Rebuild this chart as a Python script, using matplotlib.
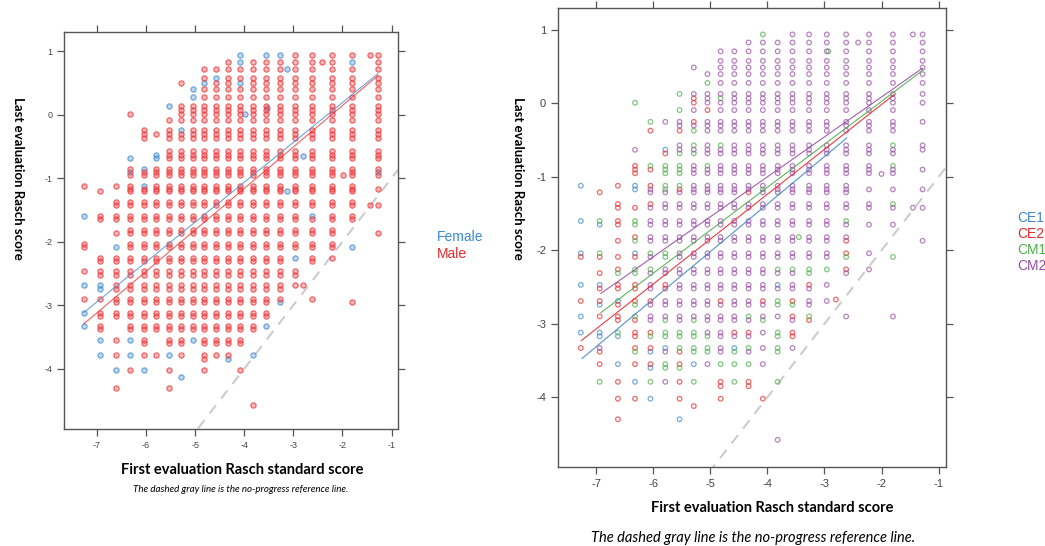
import numpy as np
import matplotlib
matplotlib.use("Agg")
import matplotlib.pyplot as plt
from matplotlib.colors import to_rgba

plt.rcParams['axes.unicode_minus'] = False

# grid of score values used by both axes (x columns, y levels from top to bottom)
X_LEVELS = [-7.27, -6.94, -6.62, -6.32, -6.05, -5.79, -5.54, -5.29, -5.05, -4.82, -4.58,
            -4.33, -4.08, -3.82, -3.56, -3.27, -2.96, -2.62, -2.22, -1.80, -1.28]
Y_LEVELS = [0.94, 0.83, 0.71, 0.58, 0.49, 0.40, 0.28, 0.13, 0.07, 0.01, -0.09, -0.25,
            -0.30, -0.37, -0.57, -0.63, -0.68, -0.85, -0.90, -0.95, -1.12, -1.17, -1.21,
            -1.37, -1.42, -1.60, -1.65, -1.82, -1.87, -2.04, -2.09, -2.26, -2.31, -2.47,
            -2.52, -2.69, -2.74, -2.90, -2.95, -3.12, -3.17, -3.33, -3.38, -3.55, -3.60,
            -3.79, -4.02, -4.30, -4.58]

# occupied y levels per x column ("a-b" = run of levels)
FEMALE_COLS = ["25 35 39 41", "35-36 43 45", "30 46", "16 18 43 45", "17 20 46", "15-16",
               "7 45", "11", "5-6 43", "4", "3", "", "0-1 4", "45", "0 41", "0 38", "31",
               "25", "", "1 30", "18"]
MALE_COLS = ["20 29-30 33 37", "22 25-26 31-34 37 39-42", "20 23-26 28 31-40 43 45 47",
             "9 17 19-42 46", "11-13 18-19 21-45", "12 17-42 45", "10-44 46-47",
             "4 7-10 12-45", "7-42", "2-3 5-46", "2 4-45", "1-45", "2-3 5-44 46",
             "1-42 48", "1-40", "1-37", "0-30 33-35", "0-24 26-32 37", "0-31",
             "0 2-26 38", "0-17 19 21 24 28"]
FEMALE_EXTRA = [(-2.80, -0.65), (-3.12, -1.21), (-3.98, 0.01), (-3.53, 0.10),
                (-3.12, 0.71), (-5.29, -4.13), (-4.33, -3.85)]
MALE_EXTRA = [(-1.43, 0.94), (-2.41, 0.83), (-1.98, -0.95), (-1.43, -1.42),
              (-2.80, -2.69), (-4.82, -3.85)]

CE1_COLS = ["20 25 29 33 37 39", "26 33 36 39-40", "35 40 43", "20-21 29 45", "42 44 46",
            "15 41", "47", "43", "", "", "41", "", "", "33", "", "", "", "", "", "", ""]
CE2_COLS = ["30 35 41", "22 30 32 34-35 37 42-43", "20 23-26 28 30-31 33-34 36-38 45-47",
            "17-19 24 27 30 33-35 38-41 43 46", "13 18 20 23 35 39 41 43", "16 33-34",
            "13 21 42-43 45-46", "8-9 11", "10", "35 45-46", "39", "22 39 45", "35 46",
            "", "35 37 39-40", "33 38", "", "28-29 31", "", "", ""]
CM1_COLS = ["", "25 29 45", "32 39", "9 25-26 28 31-32 36-37 42", "11 17 29 31 40 45",
            "17-21 29-30 38-40 43-44", "7 10 16-20 39-41 44", "13-14 16 38-42 45",
            "6 17 40-42", "8 14 43", "42-43 45", "37 41 43", "0 21 38", "31 35-36 39-42 45",
            "31 36", "31-32 37", "31", "25 30", "", "14 17 23 30", ""]
CM2_COLS = ["", "41", "", "15", "21-22 24-28 30 32-34 36-38", "11 22-28 31-32 35-37 42 45",
            "11-12 14-15 22-38", "4 7 10 12 15 17-37", "5 7-9 11-16 18-39 43",
            "2-7 9-13 15-34 36-42", "2-38 40", "1-21 23-36 38 40 42",
            "1-20 22-34 36-37 39 41 43", "1-30 32 34 37 48", "0-30 32-34 38 41", "0-30 34-36",
            "0-30 33 35", "0-24 26-27 32 37", "0-19 21 23-24 26 29 31",
            "0-13 15-16 18-19 21 24 26 37", "0-7 9 11 14-15 18 21 24 28"]
CE1_EXTRA = []
CE2_EXTRA = [(-5.29, -4.12), (-4.82, -3.85), (-4.33, -3.85), (-2.80, -2.67)]
CM1_EXTRA = [(-2.93, 0.71), (-3.45, -1.82)]
CM2_EXTRA = [(-1.45, 0.94), (-2.41, 0.83), (-1.45, -1.42), (-2.00, -0.96)]

# fitted lines: slope, intercept, x from, x to
SEX_GROUPS = ["Female", "Male"]
SEX_FIT = [(0.628, 1.447, -7.27, -1.28), (0.653, 1.449, -7.27, -1.28)]
CLASS_GROUPS = ["CE1", "CE2", "CM1", "CM2"]
CLASS_FIT = [(0.647, 1.218, -7.25, -2.61), (0.611, 1.208, -7.26, -1.78),
             (0.585, 1.199, -6.92, -1.28), (0.544, 1.177, -6.92, -1.28)]

X_TICKS = [-7, -6, -5, -4, -3, -2, -1]
Y_TICKS = [1, 0, -1, -2, -3, -4]
XLIM = (-7.67, -0.87)
YLIM = (-4.95, 1.30)

SEX_COLORS = ["#4a8fd0", "#ee3a3d"]
SEX_TEXT = ["#3a8ad2", "#e8282b"]
CLASS_COLORS = ["#3f87c5", "#e8282b", "#4daf4a", "#984ea3"]


def levels(spec):
    out = []
    for tok in spec.split():
        if '-' in tok:
            a, b = tok.split('-')
            out.extend(range(int(a), int(b) + 1))
        else:
            out.append(int(tok))
    return out


def points(cols, extra):
    xs, ys = [], []
    for xv, spec in zip(X_LEVELS, cols):
        for k in levels(spec):
            xs.append(xv)
            ys.append(Y_LEVELS[k])
    for xv, yv in extra:
        xs.append(xv)
        ys.append(yv)
    return np.array(xs), np.array(ys)


def style_axes(ax, fs):
    ax.set_xlim(*XLIM)
    ax.set_ylim(*YLIM)
    ax.set_xticks(X_TICKS)
    ax.set_yticks(Y_TICKS)
    for s in ax.spines.values():
        s.set_color("#555555")
        s.set_linewidth(1.0)
    ax.tick_params(direction='out', length=5, width=0.9, color="#555555",
                   labelcolor="#444444", labelsize=fs, top=True, right=True,
                   labeltop=False, labelright=False)
    for lab in ax.get_xticklabels() + ax.get_yticklabels():
        lab.set_family("Liberation Sans")
    # no-progress reference line
    ax.plot(XLIM, XLIM, color="#cccccc", lw=1.5, ls=(0, (5, 4)), zorder=1)


fig = plt.figure(figsize=(10.45, 5.46), dpi=100)
W, H = 1045, 546

ax1 = fig.add_axes([64 / W, 1 - 429 / H, 334 / W, 397 / H])
ax2 = fig.add_axes([558 / W, 1 - 467 / H, 388 / W, 459 / H])

# left panel: by sex
for cols, extra, col in [(FEMALE_COLS, FEMALE_EXTRA, SEX_COLORS[0]),
                         (MALE_COLS, MALE_EXTRA, SEX_COLORS[1])]:
    x, y = points(cols, extra)
    ax1.scatter(x, y, s=14, facecolor=to_rgba(col, 0.35), edgecolor=to_rgba(col, 0.75),
                linewidths=0.9, zorder=2)
for (m, b, x0, x1), col in zip(SEX_FIT, SEX_COLORS):
    xx = np.array([x0, x1])
    ax1.plot(xx, m * xx + b, color=col, lw=0.8, alpha=0.8, zorder=3)
style_axes(ax1, 6.5)

# right panel: by class
for cols, extra, col in [(CE1_COLS, CE1_EXTRA, CLASS_COLORS[0]),
                         (CE2_COLS, CE2_EXTRA, CLASS_COLORS[1]),
                         (CM1_COLS, CM1_EXTRA, CLASS_COLORS[2]),
                         (CM2_COLS, CM2_EXTRA, CLASS_COLORS[3])]:
    x, y = points(cols, extra)
    ax2.scatter(x, y, s=11, facecolor='none', edgecolor=col, alpha=0.7,
                linewidths=0.9, zorder=2)
for (m, b, x0, x1), col in zip(CLASS_FIT, CLASS_COLORS):
    xx = np.array([x0, x1])
    ax2.plot(xx, m * xx + b, color=col, lw=0.8, alpha=0.9, zorder=3)
style_axes(ax2, 8)

# axis titles and notes
ylab = "Last evaluation Rasch score"
xlab = "First evaluation Rasch standard score"
note = "The dashed gray line is the no-progress reference line."
fig.text(18 / W, 1 - 178 / H, ylab, rotation=-90, ha='center', va='center',
         fontsize=9.5, fontweight='bold', family="Lato")
fig.text(518 / W, 1 - 178 / H, ylab, rotation=-90, ha='center', va='center',
         fontsize=9.5, fontweight='bold', family="Lato")
fig.text(242 / W, 1 - 470 / H, xlab, ha='center', va='center', fontsize=10.5,
         fontweight='bold', family="Lato")
fig.text(772 / W, 1 - 508 / H, xlab, ha='center', va='center', fontsize=10.5,
         fontweight='bold', family="Lato")
fig.text(241 / W, 1 - 489 / H, note, ha='center', va='center', fontsize=7,
         style='italic', family="Lato")
fig.text(753 / W, 1 - 538 / H, note, ha='center', va='center', fontsize=10.5,
         style='italic', family="Lato")

# legends as coloured text
for i, (name, col) in enumerate(zip(SEX_GROUPS, SEX_TEXT)):
    fig.text(437 / W, 1 - (237 + 17 * i) / H, name, color=col, fontsize=10,
             ha='left', va='center', family="Liberation Sans")
for i, (name, col) in enumerate(zip(CLASS_GROUPS, CLASS_COLORS)):
    fig.text(1017 / W, 1 - (218 + 16 * i) / H, name, color=col, fontsize=10,
             ha='left', va='center', family="Liberation Sans")

fig.savefig("out.png", dpi=100)
